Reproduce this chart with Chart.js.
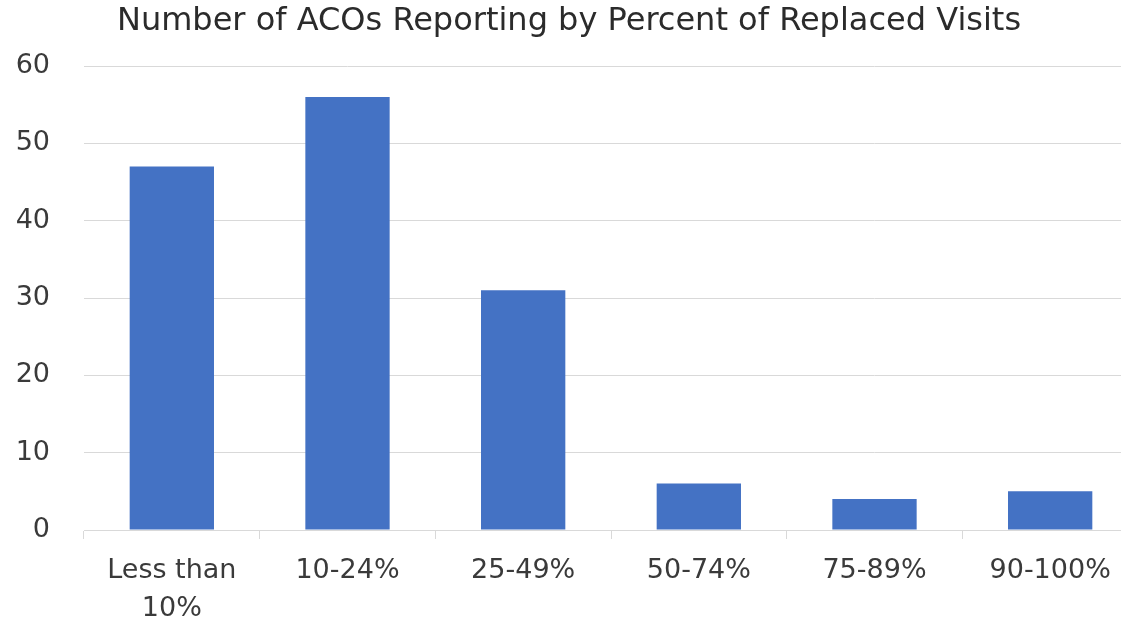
<!DOCTYPE html>
<html>
<head>
<meta charset="utf-8">
<script src="https://cdn.jsdelivr.net/npm/chart.js@4/dist/chart.umd.min.js"></script>
<style>
  html, body { margin: 0; padding: 0; background: #fff; overflow: hidden; width: 1121px; height: 618px; }
  canvas { display: block; }
</style>
</head>
<body>
<canvas id="c" width="1138" height="618"></canvas>
<script>
const categories = [["Less than", "10%"], "10-24%", "25-49%", "50-74%", "75-89%", "90-100%"];
const acoCounts = [47, 56, 31, 6, 4, 5];
const chartTitle = "Number of ACOs Reporting by Percent of Replaced Visits";
const yMin = 0, yMax = 60, yStep = 10;

Chart.defaults.font.family = "'DejaVu Sans', sans-serif";
Chart.defaults.color = "#404040";

new Chart(document.getElementById("c"), {
  type: "bar",
  data: {
    labels: categories,
    datasets: [{
      label: "ACOs",
      data: acoCounts,
      backgroundColor: "#4472C4",
      borderWidth: 0,
      barPercentage: 0.48,
      categoryPercentage: 1.0
    }]
  },
  options: {
    responsive: false,
    devicePixelRatio: 1,
    animation: false,
    layout: { padding: { left: 0, right: 0, top: 0, bottom: 0 } },
    plugins: {
      legend: { display: false },
      tooltip: { enabled: false },
      title: {
        display: true,
        text: chartTitle,
        color: "#2b2b2b",
        font: { size: 32, weight: "normal", lineHeight: 1.2 },
        padding: { top: 2, bottom: 25.6 }
      }
    },
    scales: {
      x: {
        grid: { display: true, drawOnChartArea: false, drawTicks: true, tickLength: 9, color: "#d9d9d9", offset: true },
        border: { display: true, color: "#d9d9d9", width: 1 },
        ticks: { font: { size: 27, lineHeight: 1.4 }, color: "#3a3a3a", padding: 13, maxRotation: 0, autoSkip: false },
        afterFit: (axis) => { axis.height = 88; }
      },
      y: {
        min: yMin, max: yMax,
        grid: { color: "#d9d9d9", lineWidth: 1, drawTicks: false },
        border: { display: false },
        ticks: { stepSize: yStep, font: { size: 27 }, color: "#3a3a3a", padding: 34 },
        afterFit: (axis) => { axis.width = 84; }
      }
    }
  }
});
</script>
</body>
</html>
